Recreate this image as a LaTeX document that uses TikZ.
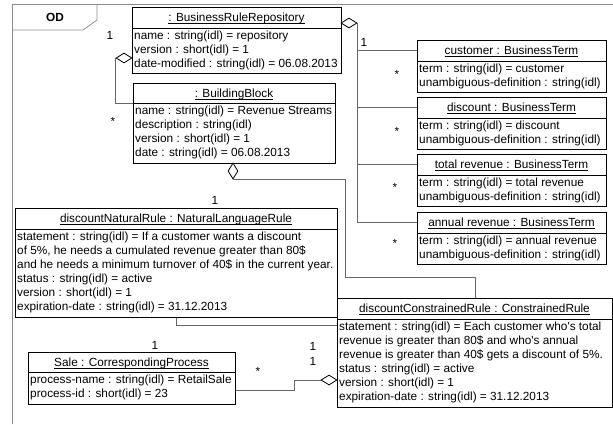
\documentclass[tikz,border=0pt]{standalone}
\usepackage{fontspec}
\setmainfont{Liberation Sans}[Ligatures=TeXOff]
\usetikzlibrary{shapes.geometric}

% underlined object title with a fixed underline depth
\newcommand\ulbox[1]{\setbox0\hbox{#1}\rlap{\rule[-1.9pt]{\wd0}{0.7pt}}\box0}

\tikzset{
  objframe/.style={draw=black, line width=0.9pt, fill=white, inner sep=0pt},
  divline/.style={draw=black, line width=0.9pt},
  objtitle/.style={inner sep=0pt, font=\fontsize{11.8}{14}\selectfont},
  objattr/.style={inner sep=0pt, anchor=north west, align=left, font=\fontsize{11.8}{14}\selectfont},
  link/.style={draw=black!60, line width=0.8pt},
  frameline/.style={draw=black!45, line width=0.8pt},
  agg/.style={diamond, draw=black, fill=white, line width=0.8pt, inner sep=0pt,
              minimum width=16pt, minimum height=10pt},
  aggv/.style={agg, minimum width=10pt, minimum height=16pt},
  mult/.style={inner sep=0pt, font=\fontsize{11.8}{14}\selectfont},
  star/.style={inner sep=0pt, anchor=base, font=\fontsize{11.8}{14}\selectfont}
}

% object box: name, left, top, right, bottom, divider y, title, attributes
\newcommand\umlobj[8]{%
  \node[objframe, anchor=north west,
        minimum width={(#4-#2)*1pt}, minimum height={(#5-#3)*1pt}] (#1) at (#2,#3) {};
  \coordinate (#1-dl) at (#2,#6);
  \coordinate (#1-dr) at (#4,#6);
  \coordinate (#1-tw) at (#2,{(#3+#6)/2});
  \draw[divline] (#1-dl) -- (#1-dr);
  \node[objtitle, anchor=base] (#1-title) at ({(#2+#4)/2},{(#3+#6)/2+4.3}) {\ulbox{#7}};
  \node[objattr] (#1-attrs) at ({#2+2},{#6+2.5}) {#8};
}

\begin{document}
\begin{tikzpicture}[x=1pt, y=-1pt]
\useasboundingbox[fill=white] (0,0) rectangle (613,424);

% diagram frame and its name tab
\draw[frameline] (12,424) -- (12,4) -- (613,4);
\draw[frameline] (12,30) -- (83,30) -- (97,20) -- (97,4);
\node[font=\fontsize{11.8}{14}\selectfont\bfseries, inner sep=0pt] (odlabel) at (55,17) {OD};

% objects
\umlobj{repo}{132}{7}{341}{73}{28}{: BusinessRuleRepository}%
  {name : string(idl) = repository\\version : short(idl) = 1\\date-modified : string(idl) = 06.08.2013}
\umlobj{bb}{133}{83}{335}{163}{103}{: BuildingBlock}%
  {name : string(idl) = Revenue Streams\\description : string(idl)\\version : short(idl) = 1\\date : string(idl) = 06.08.2013}
\umlobj{cust}{417}{40}{606}{92}{61}{customer : BusinessTerm}%
  {term : string(idl) = customer\\unambiguous-definition : string(idl)}
\umlobj{disc}{417}{97}{606}{149}{118}{discount : BusinessTerm}%
  {term : string(idl) = discount\\unambiguous-definition : string(idl)}
\umlobj{trev}{417}{154}{606}{206}{175}{total revenue : BusinessTerm}%
  {term : string(idl) = total revenue\\unambiguous-definition : string(idl)}
\umlobj{arev}{417}{212}{606}{264}{233}{annual revenue : BusinessTerm}%
  {term : string(idl) = annual revenue\\unambiguous-definition : string(idl)}
\umlobj{nat}{15}{208}{337}{317}{229}{discountNaturalRule : NaturalLanguageRule}%
  {statement : string(idl) = If a customer wants a discount\\of 5\%, he needs a cumulated revenue greater than 80\$\\and he needs a minimum turnover of 40\$ in the current year.\\status : string(idl) = active\\version : short(idl) = 1\\expiration-date : string(idl) = 31.12.2013}
\umlobj{cons}{337}{298}{612}{407}{319}{discountConstrainedRule : ConstrainedRule}%
  {statement : string(idl) = Each customer who's total\\revenue is greater than 80\$ and who's annual\\revenue is greater than 40\$ gets a discount of 5\%.\\status : string(idl) = active\\version : short(idl) = 1\\expiration-date : string(idl) = 31.12.2013}
\umlobj{sale}{28}{352}{235}{404}{372}{Sale : CorrespondingProcess}%
  {process-name : string(idl) = RetailSale\\process-id : short(idl) = 23}

% aggregation diamonds at the whole ends
\node[agg] (dRepoBB) at (124,58) {};
\node[agg] (dRepoTerms) at (349,23) {};
\node[aggv] (dBBCons) at (233,171) {};
\node[agg] (dConsSale) at (329,380) {};

% bend points of the routed links
\coordinate (bbbend) at (345,277);
\coordinate (salejog) at (294,380);

% links, each leaving its diamond from a tip
\draw[link] (dRepoBB.west) |- (bb-dl);
\draw[link] (dRepoTerms.east) |- (cust-tw);
\draw[link] (dRepoTerms.east) |- (disc-tw);
\draw[link] (dRepoTerms.east) |- (trev-tw);
\draw[link] (dRepoTerms.east) |- (arev-tw);
\draw[link] (dBBCons.south) -| (bbbend) -| (cons.north);
\draw[link] (nat.south) |- ([yshift=27.5pt]cons.west);
\draw[link] ([yshift=-12pt]sale.east) -| (salejog) -- (dConsSale.west);

% multiplicities
\node[mult] (m1) at (110,35) {1};
\node[star] (m2) at (113,125) {*};
\node[mult] (m3) at (364,42) {1};
\node[star] (m4) at (397,78) {*};
\node[star] (m5) at (397,135) {*};
\node[star] (m6) at (395,191) {*};
\node[star] (m7) at (395,247) {*};
\node[mult] (m8) at (215,200) {1};
\node[mult] (m9) at (155,345) {1};
\node[star] (m10) at (258,375) {*};
\node[mult] (m11) at (313,346) {1};
\node[mult] (m12) at (313,361) {1};
\end{tikzpicture}
\end{document}
